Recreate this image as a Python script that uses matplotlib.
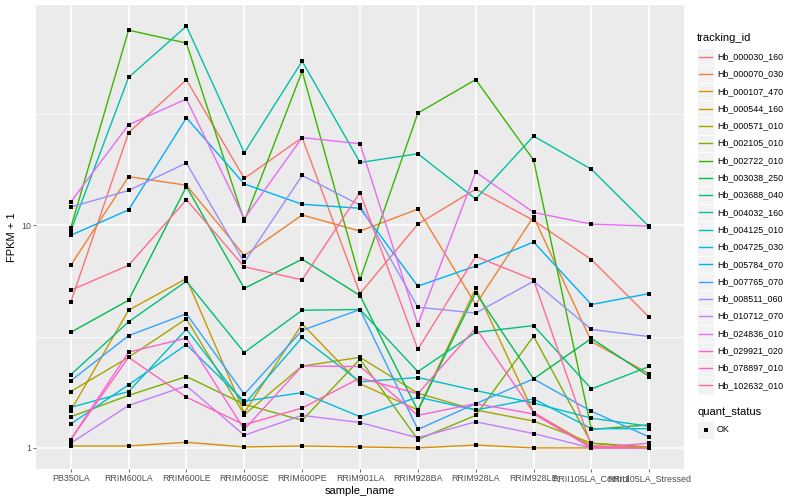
import matplotlib
matplotlib.use('Agg')
import matplotlib.pyplot as plt
import numpy as np
from matplotlib.lines import Line2D
from matplotlib.patches import Rectangle
from matplotlib.ticker import FixedLocator, NullFormatter

plt.rcParams['font.family'] = ['Liberation Sans', 'DejaVu Sans']

samples = ['PB350LA', 'RRIM600LA', 'RRIM600LE', 'RRIM600SE', 'RRIM600PE', 'RRIM901LA',
           'RRIM928BA', 'RRIM928LA', 'RRIM928LE', 'RRII105LA_Control', 'RRII105LA_Stressed']

tracking_ids = ['Hb_000030_160', 'Hb_000070_030', 'Hb_000107_470', 'Hb_000544_160',
                'Hb_000571_010', 'Hb_002105_010', 'Hb_002722_010', 'Hb_003038_250',
                'Hb_003688_040', 'Hb_004032_160', 'Hb_004125_010', 'Hb_004725_030',
                'Hb_005784_070', 'Hb_007765_070', 'Hb_008511_060', 'Hb_010712_070',
                'Hb_024836_010', 'Hb_029921_020', 'Hb_078897_010', 'Hb_102632_010']

colors = ['#F8766D', '#EA8331', '#D89000', '#C09B00', '#A3A500', '#7CAE00', '#39B600',
          '#00BB4E', '#00BF7D', '#00C1A3', '#00BFC4', '#00BAE0', '#00B0F6', '#35A2FF',
          '#9590FF', '#C77CFF', '#E76BF3', '#FA62DB', '#FF62BC', '#FF6C91']

hb_000030_160 = [4.5, 26, 44.9, 16.2, 24.7, 4.93, 10.1, 14.5, 10.5, 7.0, 3.86]
hb_000070_030 = [6.6, 16.5, 15.1, 7.3, 11.1, 9.4, 11.8, 4.4, 10.9, 3.0, 2.15]
hb_000107_470 = [1.02, 1.02, 1.06, 1.01, 1.02, 1.01, 1.0, 1.03, 1.0, 1.0, 1.0]
hb_000544_160 = [1.47, 4.15, 5.76, 1.44, 3.6, 1.94, 1.48, 5.2, 1.44, 1.02, 1.0]
hb_000571_010 = [1.79, 2.55, 3.8, 1.41, 2.33, 2.55, 1.76, 1.48, 1.32, 1.05, 1.01]
hb_002105_010 = [1.38, 1.72, 2.09, 1.57, 1.33, 2.5, 1.09, 1.40, 3.17, 1.05, 1.0]
hb_002722_010 = [9.7, 75, 65.6, 10.4, 49.0, 5.7, 31.8, 45, 19.6, 1.21, 1.27]
hb_003038_250 = [3.3, 4.6, 14.9, 5.2, 7.03, 4.83, 1.47, 4.98, 2.04, 3.1, 2.09]
hb_003688_040 = [2.13, 3.68, 5.6, 2.68, 4.15, 4.18, 2.2, 3.3, 3.54, 1.84, 2.32]
hb_004032_160 = [9.4, 46, 78.2, 21.1, 54.4, 19.1, 20.9, 13.1, 25.1, 17.8, 9.83]
hb_004125_010 = [1.52, 1.79, 3.41, 1.57, 3.13, 1.98, 2.07, 1.81, 1.59, 1.36, 1.25]
hb_004725_030 = [1.28, 1.92, 2.91, 1.62, 1.77, 1.38, 1.69, 1.48, 1.66, 1.22, 1.22]
hb_005784_070 = [9.0, 11.7, 30.3, 15.3, 12.4, 11.9, 5.32, 6.55, 8.4, 4.4, 4.93]
hb_007765_070 = [2.0, 3.19, 4.0, 1.74, 3.37, 4.18, 1.21, 1.58, 2.04, 1.46, 1.12]
hb_008511_060 = [12.05, 14.3, 19.0, 6.8, 16.7, 12.3, 4.28, 4.03, 5.6, 3.4, 3.16]
hb_010712_070 = [1.05, 1.55, 1.9, 1.14, 1.40, 1.30, 1.11, 1.31, 1.16, 1.0, 1.0]
hb_024836_010 = [12.7, 28.2, 36.8, 10.7, 24.7, 23.2, 3.58, 17.3, 11.4, 10.1, 9.9]
hb_029921_020 = [1.09, 2.69, 3.11, 1.21, 2.33, 2.32, 1.40, 1.58, 1.42, 1.0, 1.05]
hb_078897_010 = [1.09, 2.55, 1.69, 1.27, 1.51, 2.06, 1.75, 3.45, 1.44, 1.0, 1.0]
hb_102632_010 = [5.1, 6.6, 13.0, 6.5, 5.68, 14.0, 2.77, 7.24, 5.68, 1.02, 1.0]

series = [hb_000030_160, hb_000070_030, hb_000107_470, hb_000544_160, hb_000571_010,
          hb_002105_010, hb_002722_010, hb_003038_250, hb_003688_040, hb_004032_160,
          hb_004125_010, hb_004725_030, hb_005784_070, hb_007765_070, hb_008511_060,
          hb_010712_070, hb_024836_010, hb_029921_020, hb_078897_010, hb_102632_010]

W, H = 800, 500
fig = plt.figure(figsize=(8, 5), dpi=100)
fig.patch.set_facecolor('white')

def fx(x):
    return x / W

def fy(y):
    return 1 - y / H

ax = fig.add_axes([36 / W, 31 / H, 648 / W, 464 / H])
ax.set_facecolor('#EBEBEB')
for s in ax.spines.values():
    s.set_visible(False)
ax.set_yscale('log')

x = np.arange(len(samples))
for vals, col in zip(series, colors):
    ax.plot(x, vals, color=col, lw=1.0, zorder=3, solid_capstyle='butt')
for vals in series:
    ax.plot(x, vals, ls='none', marker='s', ms=2.7, mew=0, color='black', zorder=4)

allv = np.log10(np.concatenate([np.array(v, float) for v in series]))
lo, hi = allv.min(), allv.max()
pad = 0.05 * (hi - lo)
ax.set_ylim(10 ** (lo - pad), 10 ** (hi + pad))
ax.set_xlim(-0.6, len(samples) - 0.4)

ax.set_xticks(x)
ax.set_xticklabels(samples)
ax.set_yticks([1, 10])
ax.set_yticklabels(['1', '10'])
ax.yaxis.set_minor_locator(FixedLocator([10 ** 0.5, 10 ** 1.5]))
ax.yaxis.set_minor_formatter(NullFormatter())
ax.tick_params(axis='y', which='minor', length=0)
ax.tick_params(axis='both', which='major', length=2.0, width=0.5, color='#333333',
               labelcolor='#4D4D4D', labelsize=6.4, pad=1.6)
ax.grid(which='major', color='white', lw=1.1)
ax.grid(which='minor', axis='y', color='white', lw=0.55)
ax.set_axisbelow(True)
ax.set_xlabel('sample_name', fontsize=8, labelpad=2.5)
ax.set_ylabel('FPKM + 1', fontsize=8, labelpad=3)

# legend: tracking_id
fig.text(fx(697), fy(38), 'tracking_id', fontsize=8, ha='left', va='center')
y0, dy = 56.7, 17.3
for i, (name, col) in enumerate(zip(tracking_ids, colors)):
    yc = y0 + i * dy
    fig.add_artist(Rectangle((fx(697), fy(yc + dy / 2)), 17 / W, dy / H,
                             facecolor='#F2F2F2', edgecolor='white', lw=0.6,
                             transform=fig.transFigure))
    fig.add_artist(Line2D([fx(699), fx(712)], [fy(yc), fy(yc)], color=col, lw=1.0,
                          transform=fig.transFigure))
    fig.text(fx(717), fy(yc), name, fontsize=6.4, ha='left', va='center')

fig.text(fx(697), fy(412), 'quant_status', fontsize=8, ha='left', va='center')
yc = 430
fig.add_artist(Rectangle((fx(697), fy(yc + dy / 2)), 17 / W, dy / H,
                         facecolor='#F2F2F2', edgecolor='white', lw=0.6,
                         transform=fig.transFigure))
fig.add_artist(Line2D([fx(705.5)], [fy(yc)], ls='none', marker='s', ms=2.7, mew=0,
                      color='black', transform=fig.transFigure))
fig.text(fx(717), fy(yc), 'OK', fontsize=6.4, ha='left', va='center')

fig.savefig('out.png', dpi=100, facecolor='white')
